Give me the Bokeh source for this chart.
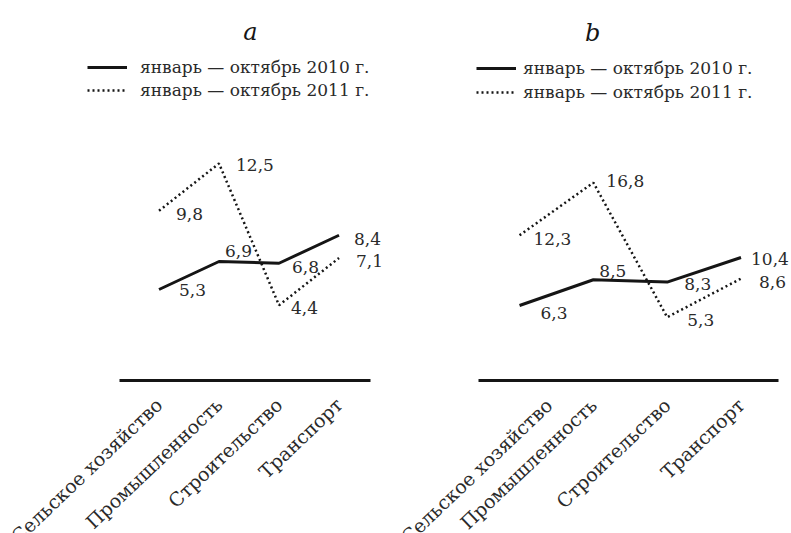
from bokeh.plotting import figure
from bokeh.layouts import row
from bokeh.models import (ColumnDataSource, FixedTicker, Legend, LegendItem, Label,
                          LinearAxis, Range1d, CustomJSTickFormatter)
from bokeh.embed import file_html
from bokeh.resources import INLINE
from bokeh.core.properties import value

# ---------------- data ----------------
categories = ["Сельское хозяйство", "Промышленность", "Строительство", "Транспорт"]
series_labels = ["январь — октябрь 2010 г.", "январь — октябрь 2011 г."]
panel_titles = ["a", "b"]
a_2010 = [5.3, 6.9, 6.8, 8.4]
a_2011 = [9.8, 12.5, 4.4, 7.1]
b_2010 = [6.3, 8.5, 8.3, 10.4]
b_2011 = [12.3, 16.8, 5.3, 8.6]

# ---------------- style ----------------
FONT = "DejaVu Serif"
INK = "#151515"
TXT = "#2a2a2a"
# value-label offsets in px: (dx list, dy list), dy positive = down
A_OFF_2010 = ([20, 6, 13, 15], [1, -10, 4, 4])
A_OFF_2011 = ([17, 17, 12, 17], [3, 2, 3, 3])
B_OFF_2010 = ([21, 6, 17, 10], [8, -9, 2, 1])
B_OFF_2011 = ([14, 13, 20, 18], [4, -2, 3, 3])


def fmt(v):
    return f"{v:.1f}".replace(".", ",")


def make_panel(title, v10, v11, off10, off11, width, xr, yr, bounds, axis_at,
               legend_loc, standoff, spacing, title_xy):
    idx = list(range(len(categories)))
    p = figure(width=width, height=533, x_range=Range1d(*xr), y_range=Range1d(*yr),
               output_backend="svg", toolbar_location=None,
               x_axis_location=None, y_axis_location=None,
               min_border_left=0, min_border_right=0, min_border_top=0,
               min_border_bottom=0)
    p.grid.visible = False
    p.outline_line_color = None

    ax = LinearAxis(ticker=FixedTicker(ticks=idx, minor_ticks=[]),
                    formatter=CustomJSTickFormatter(args=dict(cats=categories),
                                                    code="return cats[Math.round(tick)] || '';"),
                    bounds=bounds, fixed_location=axis_at)
    ax.major_label_orientation = 0.76
    ax.axis_line_width = 3
    ax.axis_line_color = INK
    ax.major_tick_line_color = None
    ax.minor_tick_line_color = None
    ax.major_tick_out = 0
    ax.major_tick_in = 0
    ax.major_label_standoff = 21
    ax.major_label_text_font = FONT
    ax.major_label_text_font_size = "19px"
    ax.major_label_text_color = TXT
    p.add_layout(ax, "below")

    s10 = ColumnDataSource(dict(x=idx, y=v10, t=[fmt(v) for v in v10], dx=off10[0], dy=off10[1]))
    s11 = ColumnDataSource(dict(x=idx, y=v11, t=[fmt(v) for v in v11], dx=off11[0], dy=off11[1]))

    r10 = p.line("x", "y", source=s10, line_width=3, line_color=INK)
    r11 = p.line("x", "y", source=s11, line_width=2.5, line_color=INK, line_dash="2 3")

    for s in (s10, s11):
        p.text("x", "y", text="t", source=s, x_offset="dx", y_offset="dy",
               text_font=value(FONT), text_font_size="17px", text_color=TXT,
               text_align="left", text_baseline="middle")

    leg = Legend(items=[LegendItem(label=series_labels[0], renderers=[r10]),
                        LegendItem(label=series_labels[1], renderers=[r11])],
                 location=legend_loc, orientation="vertical",
                 glyph_width=40, glyph_height=20, label_height=20,
                 label_standoff=standoff, spacing=spacing, padding=0, margin=0,
                 border_line_color=None, background_fill_alpha=0,
                 label_text_font=FONT, label_text_font_size="17px",
                 label_text_color=TXT)
    p.add_layout(leg)

    p.add_layout(Label(x=title_xy[0], y=title_xy[1], text=title, text_font=FONT,
                       text_font_style="italic", text_font_size="24px",
                       text_align="center", text_baseline="alphabetic",
                       text_color=INK))
    return p


pa = make_panel(panel_titles[0], a_2010, a_2011, A_OFF_2010, A_OFF_2011,
                width=396, xr=(-2.642, 3.958), yr=(-8.643, 21.814), bounds=(-0.66, 3.525),
                axis_at=0.1, legend_loc=(87, 433), standoff=13, spacing=3,
                title_xy=(1.525, 19.99))
pb = make_panel(panel_titles[1], b_2010, b_2011, B_OFF_2010, B_OFF_2011,
                width=395, xr=(-1.667, 3.684), yr=(-13.188, 32.368), bounds=(-0.556, 3.51),
                axis_at=-0.15, legend_loc=(80, 431), standoff=7, spacing=4,
                title_xy=(0.99, 29.55))

layout = row(pa, pb)
open("out.html", "w").write(file_html(layout, INLINE))
